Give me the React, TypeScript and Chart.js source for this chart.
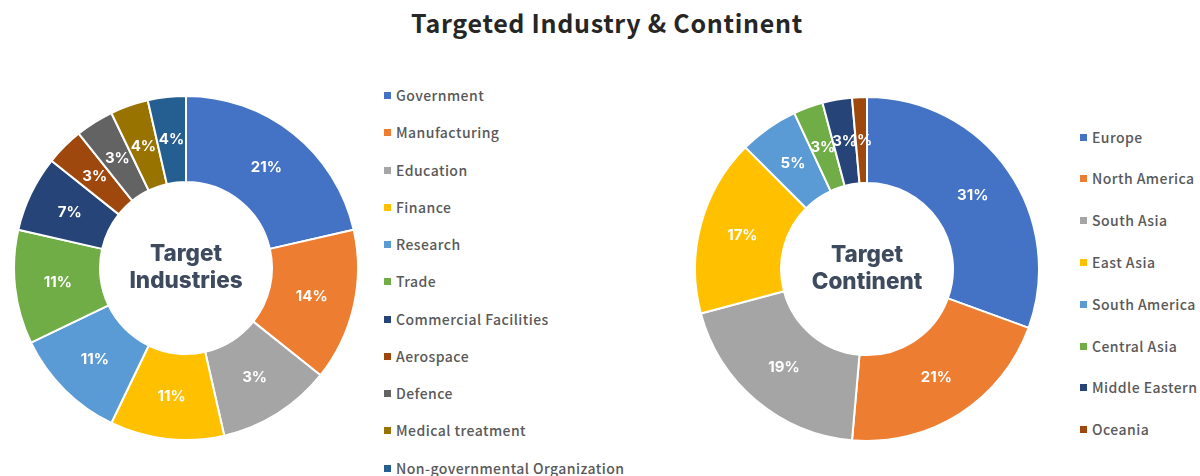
import React, { useEffect, useRef } from "react";
import { Chart, registerables } from "chart.js";

Chart.register(...registerables);

const TITLE = "Targeted Industry & Continent";

const industryLabels = [
  "Government",
  "Manufacturing",
  "Education",
  "Finance",
  "Research",
  "Trade",
  "Commercial Facilities",
  "Aerospace",
  "Defence",
  "Medical treatment",
  "Non-governmental Organization",
];
const industryValues = [6, 4, 3, 3, 3, 3, 2, 1, 1, 1, 1];
const industryPctLabels = ["21%", "14%", "3%", "11%", "11%", "11%", "7%", "3%", "3%", "4%", "4%"];
const industryColors = [
  "#4472C4", "#ED7D31", "#A5A5A5", "#FFC000", "#5B9BD5", "#70AD47",
  "#264478", "#9E480E", "#636363", "#997300", "#255E91",
];
const industryCenter = ["Target", "Industries"];

const continentLabels = [
  "Europe",
  "North America",
  "South Asia",
  "East Asia",
  "South America",
  "Central Asia",
  "Middle Eastern",
  "Oceania",
];
const continentValues = [22, 15, 14, 12, 4, 2, 2, 1];
const continentPctLabels = ["31%", "21%", "19%", "17%", "5%", "3%", "3%", "1%"];
const continentColors = [
  "#4472C4", "#ED7D31", "#A5A5A5", "#FFC000", "#5B9BD5", "#70AD47", "#264478", "#9E480E",
];
const continentCenter = ["Target", "Continent"];

const SIZE = 346;

const pctLabelPlugin = {
  id: "pctLabels",
  afterDatasetsDraw(chart: any, _args: any, opts: any) {
    const ctx = chart.ctx;
    const meta = chart.getDatasetMeta(0);
    const labels: string[] = opts.labels || [];
    ctx.save();
    ctx.fillStyle = "#FFFFFF";
    ctx.font = "700 15px Inter, 'Open Sans', sans-serif";
    ctx.textAlign = "center";
    ctx.textBaseline = "middle";
    meta.data.forEach((arc: any, i: number) => {
      const p = arc.tooltipPosition(false);
      ctx.fillText(labels[i], p.x, p.y);
    });
    ctx.restore();
  },
};

const centerTextPlugin = {
  id: "centerText",
  afterDraw(chart: any, _args: any, opts: any) {
    const ctx = chart.ctx;
    const { left, right, top, bottom } = chart.chartArea;
    const cx = (left + right) / 2;
    const cy = (top + bottom) / 2;
    const lines: string[] = opts.lines || [];
    ctx.save();
    ctx.fillStyle = "#3E4A5E";
    ctx.font = "800 22.5px Inter, 'Open Sans', sans-serif";
    ctx.textAlign = "center";
    ctx.textBaseline = "middle";
    if (lines[0]) ctx.fillText(lines[0], cx, cy - 13.5);
    if (lines[1]) ctx.fillText(lines[1], cx, cy + 13.5);
    ctx.restore();
  },
};

function Donut(props: {
  labels: string[];
  values: number[];
  colors: string[];
  pct: string[];
  center: string[];
  left: number;
  top: number;
}) {
  const ref = useRef<HTMLCanvasElement | null>(null);
  useEffect(() => {
    if (!ref.current) return;
    const chart = new Chart(ref.current, {
      type: "doughnut",
      data: {
        labels: props.labels,
        datasets: [
          {
            data: props.values,
            backgroundColor: props.colors,
            borderColor: "#FFFFFF",
            borderWidth: 2,
          },
        ],
      },
      options: {
        responsive: false,
        animation: false,
        cutout: "50%",
        layout: { padding: 0 },
        plugins: {
          legend: { display: false },
          tooltip: { enabled: false },
          pctLabels: { labels: props.pct },
          centerText: { lines: props.center },
        } as any,
      },
      plugins: [pctLabelPlugin, centerTextPlugin],
    });
    return () => chart.destroy();
  }, []);
  return (
    <canvas
      ref={ref}
      width={SIZE}
      height={SIZE}
      style={{ position: "absolute", left: props.left, top: props.top, width: SIZE, height: SIZE }}
    />
  );
}

function Legend(props: {
  labels: string[];
  colors: string[];
  left: number;
  top: number;
  step: number;
}) {
  return (
    <>
      {props.labels.map((l, i) => (
        <div
          key={l}
          style={{
            position: "absolute",
            left: props.left,
            top: props.top + i * props.step - 9,
            height: 18,
            lineHeight: "18px",
            whiteSpace: "nowrap",
            fontFamily: "'Noto Sans CJK KR', 'Noto Sans', sans-serif",
            fontSize: 14,
            fontWeight: 500,
            letterSpacing: "0.45px",
            color: "#595959",
          }}
        >
          <span
            style={{
              position: "absolute",
              left: 0,
              top: 6,
              width: 7,
              height: 7,
              background: props.colors[i],
            }}
          />
          <span style={{ position: "absolute", left: 12, top: 0 }}>{l}</span>
        </div>
      ))}
    </>
  );
}

export default function App() {
  return (
    <div
      style={{
        position: "fixed",
        left: 0,
        top: 0,
        width: 1200,
        height: 476,
        background: "#FFFFFF",
        overflow: "hidden",
      }}
    >
      <div
        style={{
          position: "absolute",
          left: 7,
          top: 4,
          width: 1200,
          textAlign: "center",
          fontFamily: "'Noto Sans CJK KR', 'Noto Sans', sans-serif",
          fontWeight: 700,
          fontSize: 25,
          letterSpacing: "0.7px",
          lineHeight: "36px",
          color: "#262626",
        }}
      >
        {TITLE}
      </div>
      <Donut
        labels={industryLabels}
        values={industryValues}
        colors={industryColors}
        pct={industryPctLabels}
        center={industryCenter}
        left={13}
        top={95}
      />
      <Legend labels={industryLabels} colors={industryColors} left={384} top={95} step={37.26} />
      <Donut
        labels={continentLabels}
        values={continentValues}
        colors={continentColors}
        pct={continentPctLabels}
        center={continentCenter}
        left={694}
        top={96}
      />
      <Legend labels={continentLabels} colors={continentColors} left={1080} top={136.5} step={41.8} />
    </div>
  );
}
